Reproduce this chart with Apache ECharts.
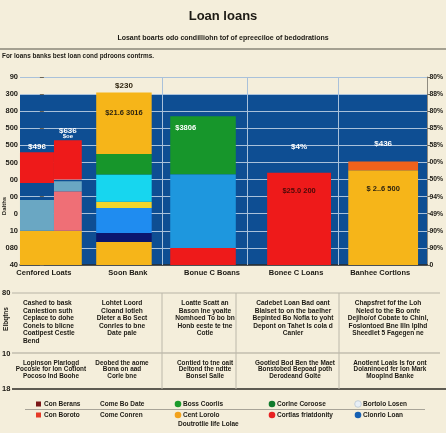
<!DOCTYPE html>
<html><head><meta charset="utf-8">
<script src="https://cdn.jsdelivr.net/npm/echarts@6/dist/echarts.min.js"></script>
<style>html,body{margin:0;padding:0;background:#f4eedb}#c{width:446px;height:433px}</style>
</head><body><div id="c"></div>
<script>
// ---------- data ----------
const categories = ['Cenfored Loats', 'Soon Bank', 'Bonue C Boans', 'Bonee C Loans', 'Banhee Cortlons'];
const yLeftLabels = ['40', '080', '10', '0', '00', '00', '500', '500', '500', '800', '300', '90'];
const yRightLabels = ['0', '90%', '90%', '49%', '94%', '50%', '00%', '58%', '85%', '80%', '88%', '80%'];
// segments: [categoryIndex, slot(0 full,1 left,2 right), from, to]
const orangeSegs = [[0, 0, 0, 20], [1, 0, 0, 13.5], [1, 0, 65, 101], [4, 0, 0, 55.5]];
const tealSegs = [[0, 1, 20, 38], [0, 2, 43, 49]];
const pinkSegs = [[0, 2, 20, 43]];
const redSegs = [[0, 1, 48, 66], [0, 2, 50, 73], [2, 0, 0, 10], [3, 0, 0, 54]];
const navySegs = [[1, 0, 13.5, 18.7]];
const brightBlueSegs = [[1, 0, 18.7, 33.4]];
const yellowSegs = [[1, 0, 33.4, 37]];
const cyanSegs = [[1, 0, 37, 53]];
const greenSegs = [[1, 0, 53, 65], [2, 0, 53, 87]];
const skyBlueSegs = [[2, 0, 10, 53]];
const orangeRedSegs = [[4, 0, 55.5, 60.5]];
// bar value labels: [categoryIndex, slot, yValue, text, tone, size]
const barLabels = [
  [0, 1, 69, '$496', 0, 8], [0, 2, 78.4, '$636', 0, 8], [0, 2, 75, '$oe', 0, 6],
  [1, 0, 104.7, '$230', 1, 8], [1, 0, 89, '$21.6 3016', 1, 7.5],
  [2, 3, 80, '$3806', 0, 7.5],
  [3, 0, 69, '$4%', 0, 8], [3, 0, 43.3, '$25.0 200', 2, 7.5],
  [4, 0, 71, '$436', 0, 8], [4, 0, 44.5, '$ 2..6 500', 1, 7.5]
];
const tableRow1 = [
  ['Cashed to bask', 'Canlestion suth', 'Ceplace to dohe', 'Conels to blicne', 'Coatipest Cestle', 'Bend'],
  ['Lohtet Loord', 'Cloand Iotleh', 'Dleter a Bo Sect', 'Conrles to bne', 'Date pale'],
  ['Loatte Scatt an', 'Bason Ine yoalte', 'Nomhoed To bo bn', 'Honb eeste te tne', 'Cotle'],
  ['Cadebet Loan Bad oant', 'Blalset to on the baelher', 'Bepinted Bo Nofla to yoht', 'Depont on Tahet Is cola d', 'Canler'],
  ['Chapsfret fof the Loh', 'Neled to the Bo onfe', 'Dejiho/of Cobate to Chinl,', 'Foslontoed Bne Illn lplhd', 'Sheedlet 5 Fagegen ne']
];
const tableRow2 = [
  ['Lopinson Plarlogd', 'Pocosie for Ion Cotiont', 'Pocoso Ind Boohe'],
  ['Deobed the aome', 'Bona on aad', 'Corle bne'],
  ['Contied to tne oait', 'Deltond the ndtte', 'Bonsel Salle'],
  ['Gootled Bod Ben the Maet', 'Bonstobed Bepoad poth', 'Derodeand Golte'],
  ['Anotlent Loals Is for ont', 'Dolaninoed fer Ion Mark', 'Mooplnd Banke']
];
const legendRow1 = [['square', '#7a1717', 'Con Berans'], ['none', '', 'Come Bo Date'], ['circle', '#1b9a2b', 'Boss Coorlis'], ['circle', '#0f7a2c', 'Corlne Coroose'], ['ring', '#e8eff6', 'Bortolo Losen']];
const legendRow2 = [['square', '#e63a26', 'Con Boroto'], ['none', '', 'Come Conren'], ['circle', '#f2a21c', 'Cent Lorolo'], ['circle', '#e82222', 'Cortlas friatdonity'], ['circle', '#1660b2', 'Clonrlo Loan']];
const legendExtra = 'Doutrotlie Iife Lolae';

// ---------- style ----------
const SANS = '"Liberation Sans",Arial,sans-serif';
const INK = '#1c1a14';
const BG_BLUE = '#0e4e93';
const GRIDC = '#a9c1da';
const barWidths = [0.735, 0.66, 0.78, 0.76, 0.83];
const barShiftPx = [7, -4, -9, 3, 3];
const leftFrac = 0.55;
const bgRange = [0, 100];
const dividerPos = [1.4, 2.42, 3.5];

function segRender(list, color) {
  return function (params, api) {
    const d = list[params.dataIndex];
    const cat = d[0], slot = d[1];
    const w = api.size([barWidths[cat], 0])[0];
    const c = api.coord([cat, 0])[0] + barShiftPx[cat];
    let x0 = c - w / 2, ww = w;
    if (slot === 1) ww = w * leftFrac;
    if (slot === 2) { x0 = c - w / 2 + w * leftFrac; ww = w * (1 - leftFrac); }
    const top = api.coord([cat, d[3]])[1];
    const bot = api.coord([cat, d[2]])[1];
    return { type: 'rect', shape: { x: x0, y: top, width: ww, height: bot - top }, style: { fill: color } };
  };
}
function segSeries(name, list, color) {
  return {
    type: 'custom', name, z: 3, silent: true,
    data: list.map(d => [d[0], d[3]]),
    renderItem: segRender(list, color)
  };
}

function T(x, y, text, size, opt) {
  opt = opt || {};
  const align = opt.align || 'left';
  const va = opt.va || 'middle';
  return {
    type: 'text', x, y, rotation: opt.rot || 0, silent: true, z: 10,
    style: {
      text, fill: opt.fill || INK,
      font: 'bold ' + size + 'px ' + SANS,
      align, verticalAlign: va, textAlign: align, textVerticalAlign: va,
      lineHeight: opt.lh || size * 1.2
    }
  };
}
function L(x1, y1, x2, y2, color, w) {
  return { type: 'line', silent: true, z: 9, shape: { x1, y1, x2, y2 }, style: { stroke: color, lineWidth: w || 1 } };
}

const graphics = [];
graphics.push(T(223, 16, 'Loan loans', 13, { align: 'center' }));
graphics.push(T(223, 38, 'Losant boarts odo condilliohn tof of epreeciloe of bedodrations', 7, { align: 'center' }));
graphics.push(L(0, 49, 446, 49, '#8a8678', 1.5));
graphics.push(T(2, 56, 'For loans banks best loan cond pdroons contrms.', 6.4, {}));
graphics.push(T(4, 206, 'Dalths', 6, { align: 'center', rot: Math.PI / 2 }));
// table
graphics.push(L(12, 293, 440, 293, '#b8b4a6', 1));
graphics.push(L(12, 353, 440, 353, '#a9a598', 1));
graphics.push(L(12, 389, 446, 389, '#2c2a24', 1.5));
[162, 236, 339].forEach(x => graphics.push(L(x, 293, x, 389, '#bcb8aa', 1)));
graphics.push(T(2, 293, '80', 7.5, {}));
graphics.push(T(2, 354, '10', 7.5, {}));
graphics.push(T(2, 389, '18', 7.5, {}));
graphics.push(T(6, 319, 'Elbqtns', 6.5, { align: 'center', rot: Math.PI / 2 }));
const row1X = [23, 122, 205, 293, 388];
const row2X = [51, 122, 205, 295, 390];
tableRow1.forEach((lines, i) => {
  graphics.push(T(row1X[i], 299.5, lines.join('\n'), 6.6, { align: i === 0 ? 'left' : 'center', va: 'top', lh: 7.5 }));
});
tableRow2.forEach((lines, i) => {
  graphics.push(T(row2X[i], 359.5, lines.join('\n'), 6.4, { align: 'center', va: 'top', lh: 6.6 }));
});
// legend
const legX = [39, 100, 178, 272, 358];
function legendRow(items, y) {
  items.forEach((it, i) => {
    const x = legX[i];
    if (it[0] === 'square') graphics.push({ type: 'rect', silent: true, z: 9, shape: { x: x - 3, y: y - 2.5, width: 5, height: 5 }, style: { fill: it[1] } });
    if (it[0] === 'circle') graphics.push({ type: 'circle', silent: true, z: 9, shape: { cx: x, cy: y, r: 3.3 }, style: { fill: it[1] } });
    if (it[0] === 'ring') graphics.push({ type: 'circle', silent: true, z: 9, shape: { cx: x, cy: y, r: 3.3 }, style: { fill: it[1], stroke: '#b9c6d2', lineWidth: 0.8 } });
    graphics.push(T(it[0] === 'none' ? x : x + 5, y, it[2], 6.5, {}));
  });
}
legendRow(legendRow1, 404);
graphics.push(L(25, 409.5, 425, 409.5, '#a8a498', 1));
legendRow(legendRow2, 415);
graphics.push(T(178, 424, legendExtra, 6.5, {}));

const option = {
  animation: false,
  backgroundColor: '#f4eedb',
  textStyle: { fontFamily: SANS },
  grid: { left: 20, right: 16, top: 77, bottom: 168, show: false },
  xAxis: {
    type: 'value', min: -0.284, max: 4.562,
    axisLine: { show: true, lineStyle: { color: '#2f2c26', width: 1.5 } },
    axisTick: { show: false },
    splitLine: { show: false },
    axisLabel: {
      customValues: [0, 1, 2, 3, 4],
      formatter: v => categories[Math.round(v)],
      fontSize: 7.5, fontWeight: 'bold', color: INK, margin: 4, fontFamily: SANS
    }
  },
  yAxis: [{
    type: 'value', min: 0, max: 110, interval: 10, position: 'left',
    axisLine: { show: false },
    axisTick: { show: true, length: 4, lineStyle: { color: '#6a665a' } },
    splitLine: { show: true, lineStyle: { color: GRIDC, width: 1 } },
    axisLabel: { formatter: v => yLeftLabels[Math.round(v / 10)], fontSize: 7.5, fontWeight: 'bold', color: INK, margin: 2, fontFamily: SANS }
  }, {
    type: 'value', min: 0, max: 110, interval: 10, position: 'right',
    axisLine: { show: true, lineStyle: { color: '#8f8b80', width: 1 } },
    axisTick: { show: true, length: 3, lineStyle: { color: '#6a665a' } },
    splitLine: { show: false },
    axisLabel: { formatter: v => yRightLabels[Math.round(v / 10)], fontSize: 6.8, fontWeight: 'bold', color: INK, margin: 2, fontFamily: SANS }
  }],
  graphic: graphics,
  series: [
    {
      type: 'custom', name: 'bg', z: -1, silent: true, data: [[0, bgRange[1]]],
      renderItem: (params, api) => {
        const cs = params.coordSys;
        const top = api.coord([0, bgRange[1]])[1];
        const bot = api.coord([0, bgRange[0]])[1];
        return { type: 'rect', shape: { x: cs.x, y: top, width: cs.width, height: bot - top }, style: { fill: BG_BLUE } };
      }
    },
    {
      type: 'custom', name: 'dividers', z: 1, silent: true,
      data: dividerPos.map(v => [v, 0]),
      renderItem: (params, api) => {
        const cs = params.coordSys;
        const x = Math.round(api.coord([api.value(0), 0])[0]) + 0.5;
        return { type: 'line', shape: { x1: x, y1: cs.y, x2: x, y2: cs.y + cs.height }, style: { stroke: GRIDC, lineWidth: 1 } };
      }
    },
    segSeries('orange', orangeSegs, '#f6b519'),
    segSeries('teal', tealSegs, '#6aa7c3'),
    segSeries('pink', pinkSegs, '#ef6f76'),
    segSeries('red', redSegs, '#ee1a1a'),
    segSeries('navy', navySegs, '#0b176e'),
    segSeries('brightBlue', brightBlueSegs, '#1f8cf0'),
    segSeries('yellow', yellowSegs, '#f3d52a'),
    segSeries('cyan', cyanSegs, '#17d6ef'),
    segSeries('green', greenSegs, '#17962b'),
    segSeries('skyBlue', skyBlueSegs, '#1e97de'),
    segSeries('orangeRed', orangeRedSegs, '#f0621b'),
    {
      type: 'custom', name: 'labels', z: 5, silent: true,
      data: barLabels.map(d => [d[0], d[2]]),
      renderItem: (params, api) => {
        const d = barLabels[params.dataIndex];
        const cat = d[0], slot = d[1];
        const w = api.size([barWidths[cat], 0])[0];
        const c = api.coord([cat, d[2]]);
        const cx = c[0] + barShiftPx[cat];
        let x = cx, align = 'center';
        if (slot === 1) x = cx - w / 2 + w * leftFrac / 2;
        if (slot === 2) x = cx - w / 2 + w * leftFrac + w * (1 - leftFrac) / 2;
        if (slot === 3) { x = cx - w / 2 + 5; align = 'left'; }
        const fill = d[4] === 0 ? '#ffffff' : (d[4] === 2 ? '#4a0a08' : '#2e2410');
        return {
          type: 'text', x, y: c[1],
          style: { text: d[3], fill, font: 'bold ' + d[5] + 'px ' + SANS, align, verticalAlign: 'middle', textAlign: align, textVerticalAlign: 'middle' }
        };
      }
    }
  ]
};
const chart = echarts.init(document.getElementById('c'), null, { renderer: 'canvas' });
chart.setOption(option);
</script>
</body></html>
